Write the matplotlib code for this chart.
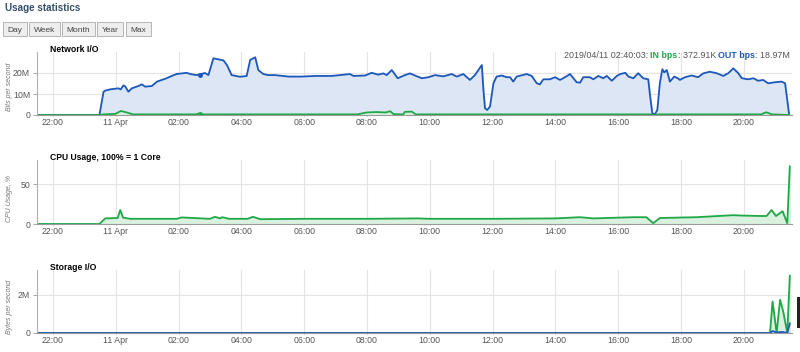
import matplotlib
matplotlib.use('Agg')
import matplotlib.pyplot as plt
from matplotlib.patches import Rectangle

plt.rcParams['font.family'] = ['Liberation Sans', 'DejaVu Sans']

# hours relative to 00:00 on 11 Apr
out_hours = [-2.51, -0.52, -0.39, -0.34, -0.18, 0.08, 0.16, 0.24, 0.30, 0.40, 0.51, 0.72, 0.83, 0.93,
             1.15, 1.31, 1.46, 1.62, 1.78, 1.94, 2.26, 2.37, 2.58, 2.84, 2.95, 3.11, 3.27, 3.43, 3.54,
             3.69, 3.96, 4.17, 4.28, 4.44, 4.54, 4.70, 4.86, 5.07, 5.50, 5.92, 6.35, 6.88, 7.46, 7.57,
             7.94, 8.15, 8.36, 8.52, 8.63, 8.79, 8.98, 9.21, 9.37, 9.53, 9.75, 9.96, 10.17, 10.43,
             10.70, 10.86, 11.07, 11.28, 11.44, 11.55, 11.66, 11.71, 11.76, 11.83, 11.92, 12.03, 12.13,
             12.29, 12.45, 12.56, 12.66, 12.77, 13.09, 13.25, 13.41, 13.51, 13.62, 13.83, 13.99, 14.15,
             14.31, 14.47, 14.68, 14.79, 14.89, 15.10, 15.21, 15.37, 15.53, 15.64, 15.80, 15.96, 16.07,
             16.23, 16.33, 16.49, 16.64, 16.80, 16.96, 17.01, 17.09, 17.17, 17.25, 17.33, 17.41, 17.47,
             17.55, 17.65, 17.79, 17.90, 17.97, 18.13, 18.34, 18.55, 18.71, 18.92, 19.14, 19.35, 19.51,
             19.67, 19.83, 19.94, 20.15, 20.31, 20.46, 20.62, 20.78, 21.00, 21.21, 21.32, 21.45]
out_mbps = [0, 0, 11.1, 11.6, 12.2, 12.7, 12.2, 14.1, 13.6, 11.1, 12.7, 13.8, 14.6, 13.5,
            13.8, 15.9, 16.7, 17.5, 18.6, 19.5, 20.1, 19.5, 19.0, 20.0, 19.0, 27.0, 26.5, 26.0, 23.8,
            19.0, 18.2, 18.6, 26.2, 27.5, 21.4, 19.5, 19.0, 19.0, 18.3, 18.3, 18.6, 18.6, 19.5, 18.6,
            18.8, 20.1, 19.2, 19.8, 19.0, 21.4, 17.5, 19.0, 19.8, 18.8, 17.5, 18.0, 19.0, 18.4,
            19.5, 18.3, 19.5, 16.7, 19.0, 21.4, 23.8, 11.9, 3.2, 2.4, 4.0, 15.1, 18.3,
            18.8, 18.0, 18.0, 15.9, 18.3, 19.5, 18.6, 15.1, 14.6, 17.0, 17.0, 18.0, 16.7,
            18.0, 19.5, 15.6, 15.4, 18.0, 18.0, 17.0, 18.6, 17.5, 18.6, 16.3, 18.6, 19.5,
            20.1, 18.3, 17.5, 19.9, 17.5, 17.0, 10.3, 0.8, 0.3, 2.4, 15.1, 21.8, 20.3,
            21.4, 15.9, 18.3, 17.5, 16.7, 18.0, 18.8, 18.0, 19.8, 20.6, 19.9, 18.6, 19.9,
            22.2, 19.9, 17.5, 17.0, 17.5, 16.3, 16.7, 15.1, 15.6, 15.9, 15.1, 0.0]

in_hours = [-2.51, -0.52, -0.40, -0.02, 0.16, 0.35, 0.55, 2.55, 2.64, 2.75, 7.7, 7.99, 8.3, 8.6,
            8.74, 8.85, 9.15, 9.21, 9.43, 9.55, 17.0, 17.15, 17.3, 20.55, 20.72, 20.9, 21.45]
in_mbps = [0, 0, 0.3, 0.5, 1.9, 1.2, 0.3, 0.3, 0.7, 0.3, 0.3, 1.2, 1.4, 1.2,
           1.8, 0.4, 0.3, 1.5, 1.6, 0.3, 0.3, 0.0, 0.3, 0.3, 1.3, 0.3, 0.0]

cpu_hours = [-2.51, -0.52, -0.34, 0.06, 0.14, 0.23, 0.46, 1.94, 2.1, 3.0, 3.16, 3.32, 3.39, 3.6,
             4.2, 4.37, 4.6, 6.0, 8.0, 9.6, 10.0, 12.0, 14.0, 14.79, 15.2, 16.5, 16.9, 17.12, 17.33,
             18.5, 19.66, 19.98, 20.6, 20.73, 20.89, 21.03, 21.24, 21.39, 21.47]
cpu_pct = [0, 0, 7, 7.5, 17.5, 8, 6.5, 6.5, 8.2, 6.5, 9, 7, 8.5, 6.5,
           6.5, 9, 6, 6.5, 6.5, 7, 6.5, 6.5, 7, 8.5, 7, 8.5, 8.5, 1, 7.5,
           8.5, 11, 10.5, 10, 10, 17.5, 10, 16, 1, 72]

disk_hours = [-2.51, 20.84, 20.92, 21.05, 21.16, 21.26, 21.39, 21.47]
disk_read_mb = [0, 0, 1.65, 0, 1.74, 1.12, 0, 3.0]
disk_write_mb = [0, 0, 0.1, 0.03, 0.05, 0.05, 0.0, 0.5]

tick_hours = [-2, 0, 2, 4, 6, 8, 10, 12, 14, 16, 18, 20]
tick_labels = ['22:00', '11 Apr', '02:00', '04:00', '06:00', '08:00', '10:00',
               '12:00', '14:00', '16:00', '18:00', '20:00']

BLUE = '#1c58bb'
BLUE_FILL = '#dde6f4'
GREEN = '#1fa848'
GREEN_FILL = '#d9f1de'
GRID = '#e4e4e4'
TXT = '#555555'

W, H = 800, 352
fig = plt.figure(figsize=(8, 3.52), dpi=100)


def px_axes(left, top, right, bottom):
    return fig.add_axes([left / W, 1 - bottom / H, (right - left) / W, (bottom - top) / H])


def style(ax, ymax, yticks, ylabels, ylabel, title, title_y, ylabel_y):
    ax.set_xlim(-2.51, 21.54)
    ax.set_ylim(0, ymax)
    ax.set_xticks(tick_hours)
    ax.set_xticklabels(tick_labels)
    ax.set_yticks(yticks)
    ax.set_yticklabels(ylabels)
    ax.grid(True, color=GRID, lw=0.8)
    ax.set_axisbelow(True)
    for s in ['top', 'right']:
        ax.spines[s].set_visible(False)
    ax.spines['left'].set_color('#b0b0b0')
    ax.spines['bottom'].set_color('#9a9a9a')
    ax.tick_params(labelsize=6.3, colors='#9a9a9a', labelcolor=TXT, length=3, width=0.6, pad=2)
    ax.tick_params(axis='x', length=1, pad=1.5)
    fig.text(50 / W, 1 - title_y / H, title, fontsize=6.2, fontweight='bold', va='center', ha='left')
    fig.text(10 / W, 1 - ylabel_y / H, ylabel, fontsize=5, style='italic', color='#777777',
             rotation=90, va='center', ha='center')


# header
fig.text(5 / W, 1 - 8 / H, 'Usage statistics', fontsize=7.1, fontweight='bold', color='#34506b',
         va='center', ha='left')
buttons = [('Day', 3, 27), ('Week', 29, 60), ('Month', 62, 95), ('Year', 97, 123), ('Max', 126, 151)]
for name, x0, x1 in buttons:
    fig.patches.append(Rectangle((x0 / W, 1 - 36 / H), (x1 - x0) / W, 14 / H, transform=fig.transFigure,
                                 facecolor='#eeeeee', edgecolor='#aaaaaa', lw=0.6))
    fig.text((x0 + x1) / 2 / W, 1 - 29.5 / H, name, fontsize=6, color='#444444',
             ha='center', va='center_baseline')

# Network I/O
ax1 = px_axes(37, 52, 792, 115)
ax1.fill_between(out_hours, out_mbps, color=BLUE_FILL)
ax1.plot(out_hours, out_mbps, color=BLUE, lw=1.3)
ax1.fill_between(in_hours, in_mbps, color=GREEN_FILL)
ax1.plot(in_hours, in_mbps, color=GREEN, lw=1.3)
ax1.plot([2.67], [19.0], 'o', color=BLUE, ms=2.5)
ax1.plot([2.67], [0.37], 'o', color=GREEN, ms=2.5)
style(ax1, 30, [0, 10, 20], ['0', '10M', '20M'], 'Bits per second', 'Network I/O', 49, 87)

# legend with coloured pieces, laid out right to left
pieces = [('2019/04/11 02:40:03: ', TXT, 'normal'), ('IN bps', GREEN, 'bold'), (': 372.91K ', TXT, 'normal'),
          ('OUT bps', BLUE, 'bold'), (': 18.97M', TXT, 'normal')]
renderer = fig.canvas.get_renderer()
x = 790
for txt, col, wt in reversed(pieces):
    t = fig.text(x / W, 1 - 56 / H, txt, fontsize=6.4, color=col, fontweight=wt, ha='right', va='center')
    x -= t.get_window_extent(renderer).width

# CPU
ax2 = px_axes(37, 160, 792, 224)
ax2.fill_between(cpu_hours, cpu_pct, color=GREEN_FILL)
ax2.plot(cpu_hours, cpu_pct, color=GREEN, lw=1.3)
style(ax2, 80, [0, 50], ['0', '50'], 'CPU Usage, %', 'CPU Usage, 100% = 1 Core', 158, 198)

# Storage
ax3 = px_axes(37, 270, 792, 333)
ax3.fill_between(disk_hours, disk_read_mb, color=GREEN_FILL)
ax3.plot(disk_hours, disk_read_mb, color=GREEN, lw=1.3)
ax3.fill_between(disk_hours, disk_write_mb, color=BLUE_FILL)
ax3.plot(disk_hours, disk_write_mb, color=BLUE, lw=1.3)
style(ax3, 3.3, [0, 2], ['0', '2M'], 'Bytes per second', 'Storage I/O', 267, 307)

fig.patches.append(Rectangle((797 / W, 1 - 328 / H), 3 / W, 31 / H, transform=fig.transFigure,
                             facecolor='#222222', edgecolor='none'))

fig.savefig('out.png', dpi=100)
